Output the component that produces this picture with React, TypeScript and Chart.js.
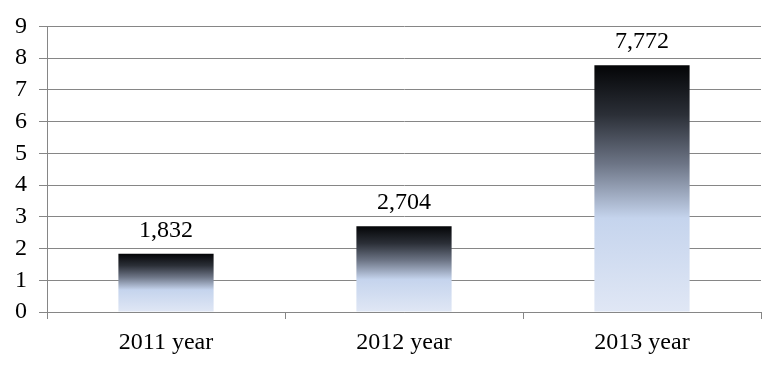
import React, { useEffect, useRef } from "react";
import { Chart, registerables } from "chart.js";

Chart.register(...registerables);

const categories = ["2011 year", "2012 year", "2013 year"];
const values = [1.832, 2.704, 7.772];
const valueLabels = ["1,832", "2,704", "7,772"];
const yTicks = [0, 1, 2, 3, 4, 5, 6, 7, 8, 9];

const FONT = "'Liberation Serif', 'Times New Roman', serif";
const GRID = "#868686";

const labelPlugin = {
  id: "valueLabels",
  afterDatasetsDraw(chart: any) {
    const ctx = chart.ctx;
    const meta = chart.getDatasetMeta(0);
    ctx.save();
    ctx.font = `24px ${FONT}`;
    ctx.fillStyle = "#000";
    ctx.textAlign = "center";
    ctx.textBaseline = "middle";
    meta.data.forEach((el: any, i: number) => {
      ctx.fillText(valueLabels[i], el.x, el.y - 23.5);
    });
    ctx.restore();
  },
};

export default function App() {
  const ref = useRef<HTMLCanvasElement>(null);
  useEffect(() => {
    document.body.style.margin = "0";
    const canvas = ref.current!;
    const chart = new Chart(canvas, {
      type: "bar",
      data: {
        labels: categories,
        datasets: [
          {
            data: values,
            barPercentage: 0.4,
            categoryPercentage: 1,
            borderWidth: 0,
            backgroundColor: (c: any) => {
              const ch = c.chart;
              if (!ch.chartArea || c.dataIndex === undefined) return "#c5d4ed";
              const y = ch.scales.y;
              const top = y.getPixelForValue(values[c.dataIndex]);
              const bottom = y.getPixelForValue(0);
              if (!isFinite(top) || !isFinite(bottom) || top === bottom) return "#c5d4ed";
              const g = ch.ctx.createLinearGradient(0, top, 0, bottom);
              g.addColorStop(0, "#040507");
              g.addColorStop(0.2, "#2b2f37");
              g.addColorStop(0.4, "#6d7586");
              g.addColorStop(0.62, "#c5d4ed");
              g.addColorStop(1, "#e0e7f5");
              return g;
            },
          },
        ],
      },
      options: {
        animation: false,
        responsive: false,
        maintainAspectRatio: false,
        layout: { padding: { top: 24, right: 23, left: 0, bottom: 0 } },
        plugins: {
          legend: { display: false },
          tooltip: { enabled: false },
        },
        scales: {
          x: {
            grid: {
              offset: true,
              drawOnChartArea: false,
              drawTicks: true,
              tickLength: 7,
              color: GRID,
            },
            border: { color: GRID },
            ticks: {
              color: "#000",
              font: { family: FONT, size: 24 },
              padding: 9,
            },
            afterFit: (s: any) => {
              s.height = 57;
            },
          },
          y: {
            min: 0,
            max: 9,
            afterBuildTicks: (s: any) => {
              s.ticks = yTicks.map((v) => ({ value: v }));
            },
            grid: { color: GRID, tickLength: 8 },
            border: { color: GRID },
            ticks: {
              color: "#000",
              font: { family: FONT, size: 24 },
              padding: 12,
              stepSize: 1,
              autoSkip: false,
            },
            afterFit: (s: any) => {
              s.width = 47;
            },
          },
        },
      },
      plugins: [labelPlugin],
    });
    return () => chart.destroy();
  }, []);
  return <canvas ref={ref} width={784} height={369} style={{ display: "block" }} />;
}
